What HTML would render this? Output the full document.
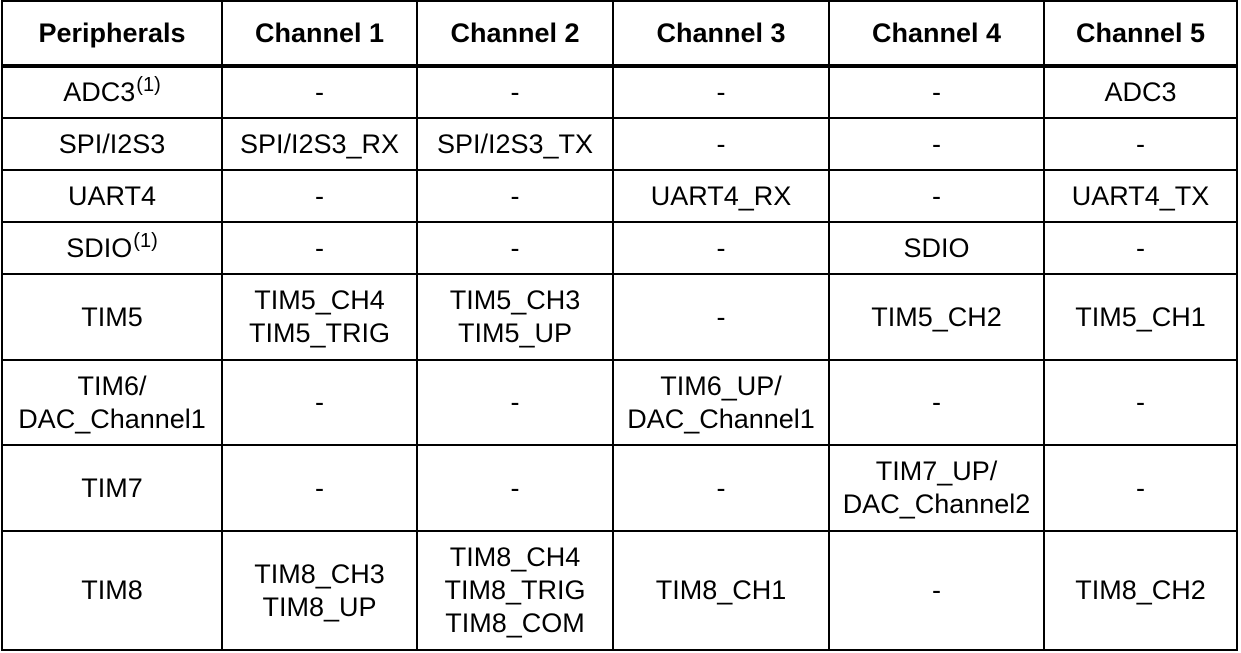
<!DOCTYPE html><html><head><style>
body{margin:0;width:1241px;height:653px;background:#fff;position:relative;font-family:"Liberation Sans",Arial,sans-serif;color:#000;overflow:hidden}
.h,.v{position:absolute;background:#000}
.c{position:absolute;display:flex;align-items:center;justify-content:center;text-align:center;font-size:27px;line-height:33px}
.s{display:inline-block;font-size:20px;line-height:20px;position:relative;top:-10px;margin-left:1px}
</style></head><body>
<div id="g"></div>
<script>
const X=[2,222,417,613,829,1044,1237],Y=[1,66,118,170,222,274,360,445,531,650];
const d=[["<b>Peripherals</b>","<b>Channel 1</b>","<b>Channel 2</b>","<b>Channel 3</b>","<b>Channel 4</b>","<b>Channel 5</b>"],
["<span>ADC3<span class='s'>(1)</span></span>","-","-","-","-","ADC3"],
["SPI/I2S3","SPI/I2S3_RX","SPI/I2S3_TX","-","-","-"],
["UART4","-","-","UART4_RX","-","UART4_TX"],
["<span>SDIO<span class='s'>(1)</span></span>","-","-","-","SDIO","-"],
["TIM5","TIM5_CH4<br>TIM5_TRIG","TIM5_CH3<br>TIM5_UP","-","TIM5_CH2","TIM5_CH1"],
["TIM6/<br>DAC_Channel1","-","-","TIM6_UP/<br>DAC_Channel1","-","-"],
["TIM7","-","-","-","TIM7_UP/<br>DAC_Channel2","-"],
["TIM8","TIM8_CH3<br>TIM8_UP","TIM8_CH4<br>TIM8_TRIG<br>TIM8_COM","TIM8_CH1","-","TIM8_CH2"]];
let h="";
for(let r=0;r<9;r++)for(let c=0;c<6;c++){h+=`<div class="c" style="left:${X[c]}px;top:${Y[r]}px;width:${X[c+1]-X[c]}px;height:${Y[r+1]-Y[r]}px">${d[r][c]}</div>`;}
X.forEach(x=>h+=`<div class="v" style="left:${x-1}px;top:${Y[0]-1}px;width:2px;height:${Y[9]-Y[0]+2}px"></div>`);
Y.forEach((y,i)=>h+=`<div class="h" style="left:${X[0]-1}px;top:${i==1?y-2:y-1}px;width:${X[6]-X[0]+2}px;height:${i==1?4:2}px"></div>`);
document.getElementById("g").innerHTML=h;
</script>
</body></html>
